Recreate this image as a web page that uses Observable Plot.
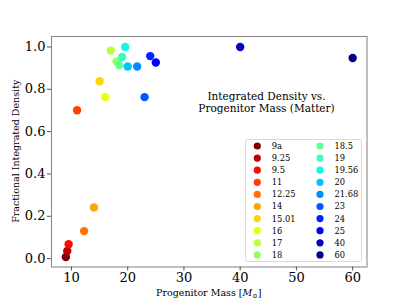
<!DOCTYPE html>
<html>
<head>
<meta charset="utf-8">
<script src="https://cdn.jsdelivr.net/npm/d3@7"></script>
<script src="https://cdn.jsdelivr.net/npm/@observablehq/plot@0.6"></script>
<style>
  html, body { margin: 0; padding: 0; background: #fff; }
  #chart svg { display: block; }
</style>
</head>
<body>
<div id="chart"></div>
<script>
// Data
const labels = ["9a","9.25","9.5","11","12.25","14","15.01","16","17","18","18.5","19","19.56","20","21.68","23","24","25","40","60"];
const masses = [9, 9.25, 9.5, 11, 12.25, 14, 15.01, 16, 17, 18, 18.5, 19, 19.56, 20, 21.68, 23, 24, 25, 40, 60];
const densities = [0.008, 0.036, 0.068, 0.701, 0.130, 0.242, 0.838, 0.763, 0.983, 0.932, 0.915, 0.953, 1.0, 0.908, 0.908, 0.763, 0.957, 0.927, 1.0, 0.948];
const xTicks = [10, 20, 30, 40, 50, 60];
const yTicks = [0.0, 0.2, 0.4, 0.6, 0.8, 1.0];
const titleLines = ["Integrated Density vs.", "Progenitor Mass (Matter)"];

const rows = labels.map((l, i) => ({label: l, mass: masses[i], dens: densities[i]}));

// matplotlib "jet" colormap, reversed across the series
function seg(pts, t) {
  for (let i = 1; i < pts.length; i++) {
    if (t <= pts[i][0]) {
      const [x0, y0] = pts[i - 1], [x1, y1] = pts[i];
      return y0 + (y1 - y0) * (t - x0) / (x1 - x0);
    }
  }
  return pts[pts.length - 1][1];
}
const R = [[0,0],[0.35,0],[0.66,1],[0.89,1],[1,0.5]];
const G = [[0,0],[0.125,0],[0.375,1],[0.64,1],[0.91,0],[1,0]];
const B = [[0,0.5],[0.11,1],[0.34,1],[0.65,0],[1,0]];
function jet(t) { return d3.rgb(seg(R,t)*255, seg(G,t)*255, seg(B,t)*255).formatHex(); }
const colors = labels.map((_, i) => jet(1 - i / (labels.length - 1)));

const W = 407, H = 305;
const mL = 51, mR = 40.5, mT = 36, mB = 38.5;
const serif = "'DejaVu Serif', serif";

const plot = Plot.plot({
  width: W, height: H,
  marginLeft: mL, marginRight: mR, marginTop: mT, marginBottom: mB,
  style: {fontFamily: serif, background: "#fff", color: "#000"},
  x: {domain: [6.45, 62.55], ticks: xTicks, label: null},
  y: {domain: [-0.0395, 1.0495], ticks: yTicks, tickFormat: d3.format(".1f"), label: null},
  color: {type: "ordinal", domain: labels, range: colors},
  marks: [
    Plot.frame({stroke: "#8a8a8a", strokeWidth: 1.1}),
    Plot.axisX({ticks: xTicks, tickSize: 4, tickPadding: 2, fontSize: 13, label: null, stroke: "#555"}),
    Plot.axisY({ticks: yTicks, tickSize: 4, tickPadding: 2, fontSize: 13, label: null, tickFormat: d3.format(".1f"), stroke: "#555"}),
    Plot.dot(rows, {x: "mass", y: "dens", fill: "label", r: 4.2, stroke: "none"}),
    Plot.text([titleLines.join("\n")], {frameAnchor: "top-left", dx: 215, dy: 55, fontSize: 10.5, lineHeight: 1.15, textAnchor: "middle", fill: "#000"})
  ]
});
document.getElementById("chart").appendChild(plot);

const svg = d3.select(plot);
const plotLeft = mL, plotRight = W - mR, plotTop = mT, plotBottom = H - mB;

// X label with italic M and sun subscript
const xl = svg.append("text")
  .attr("x", (plotLeft + plotRight) / 2).attr("y", H - 9)
  .attr("text-anchor", "middle").attr("font-family", serif).attr("font-size", 9.5).attr("fill", "#000");
xl.append("tspan").text("Progenitor Mass [");
xl.append("tspan").attr("font-style", "italic").text("M");
xl.append("tspan").attr("font-size", 6.5).attr("dy", 2).text("⊙");
xl.append("tspan").attr("dy", -2).text("]");

// Y label
svg.append("text")
  .attr("transform", `translate(${16},${(plotTop + plotBottom) / 2}) rotate(-90)`)
  .attr("text-anchor", "middle").attr("dominant-baseline", "middle")
  .attr("font-family", serif).attr("font-size", 9.5).attr("fill", "#000")
  .text("Fractional Integrated Density");

// Legend (two columns of ten)
const lg = svg.append("g").attr("text-anchor", "start");
const boxX = 245.5, boxY = 139.5, boxW = 116, boxH = 122;
lg.append("rect").attr("x", boxX).attr("y", boxY).attr("width", boxW).attr("height", boxH)
  .attr("fill", "#fff").attr("fill-opacity", 0.9).attr("stroke", "#d0d0d0").attr("stroke-width", 0.8).attr("rx", 2);
const perCol = 10, rowH = 12.1, colX = [257.3, 320], rowY0 = 146;
const colorScale = plot.scale("color");
rows.forEach((d, i) => {
  const c = Math.floor(i / perCol), r = i % perCol;
  const cx = colX[c], cy = rowY0 + r * rowH;
  lg.append("circle").attr("cx", cx).attr("cy", cy).attr("r", 3.6).attr("fill", colorScale.apply(d.label));
  lg.append("text").attr("x", cx + 14.5).attr("y", cy).attr("dy", "0.35em")
    .attr("text-anchor", "start")
    .attr("font-family", serif).attr("font-size", 8.3).attr("fill", "#000").text(d.label);
});
</script>
</body>
</html>
